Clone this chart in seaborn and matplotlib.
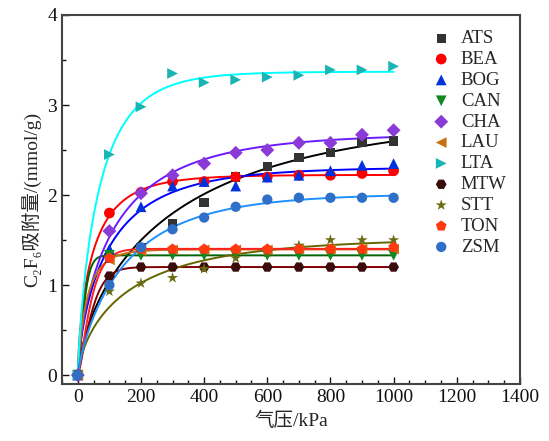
import numpy as np
import pandas as pd
import matplotlib
matplotlib.use("Agg")
import matplotlib.pyplot as plt
from matplotlib.ticker import MultipleLocator
import seaborn as sns

# Pressure points (kPa)
pressure = [0, 100, 200, 300, 400, 500, 600, 700, 800, 900, 1000]

# C2F6 uptake (mmol/g) for each framework
ATS = [0, 1.30, 1.42, 1.68, 1.92, 2.20, 2.32, 2.42, 2.47, 2.58, 2.60]
BEA = [0, 1.80, 2.03, 2.15, 2.15, 2.20, 2.20, 2.22, 2.22, 2.24, 2.27]
BOG = [0, 1.40, 1.87, 2.10, 2.15, 2.10, 2.20, 2.22, 2.27, 2.33, 2.35]
CAN = [0, 1.33, 1.33, 1.33, 1.33, 1.33, 1.33, 1.33, 1.33, 1.33, 1.33]
CHA = [0, 1.60, 2.02, 2.22, 2.35, 2.47, 2.50, 2.58, 2.58, 2.67, 2.72]
LAU = [0, 1.28, 1.38, 1.39, 1.39, 1.39, 1.39, 1.40, 1.40, 1.40, 1.40]
LTA = [0, 2.45, 2.98, 3.35, 3.25, 3.28, 3.31, 3.33, 3.39, 3.39, 3.43]
MTW = [0, 1.10, 1.20, 1.20, 1.20, 1.20, 1.20, 1.20, 1.20, 1.20, 1.20]
STT = [0, 0.93, 1.02, 1.08, 1.18, 1.30, 1.36, 1.44, 1.50, 1.50, 1.50]
TON = [0, 1.30, 1.40, 1.40, 1.40, 1.40, 1.40, 1.40, 1.40, 1.40, 1.42]
ZSM = [0, 1.00, 1.42, 1.62, 1.75, 1.87, 1.95, 1.97, 1.97, 1.97, 1.97]

names = ["ATS", "BEA", "BOG", "CAN", "CHA", "LAU", "LTA", "MTW", "STT", "TON", "ZSM"]
values = [ATS, BEA, BOG, CAN, CHA, LAU, LTA, MTW, STT, TON, ZSM]

marker_colors = ["#333333", "#ff0000", "#0033dd", "#118822", "#8a3ad6", "#c87010",
                 "#19b5b5", "#3a0c0c", "#6b6b10", "#ff3a10", "#2f6fc8"]
line_colors = ["#000000", "#ff0000", "#0000ff", "#006400", "#6a1bff", "#c87010",
               "#00ffff", "#800000", "#666600", "#ff2020", "#1e90ff"]
markers = ["s", "o", "^", "v", "D", "<", ">", "H", "*", "p", "o"]
msizes = [45, 60, 60, 60, 50, 60, 60, 60, 70, 65, 55]

df = pd.DataFrame({
    "P": np.tile(pressure, len(names)),
    "q": np.concatenate(values),
    "zeolite": np.repeat(names, len(pressure)),
})


def isotherm_fit(p, q):
    """Least-squares stretched-exponential isotherm fit by grid search."""
    p = np.asarray(p, float)
    q = np.asarray(q, float)
    ks = np.logspace(-4, np.log10(0.045), 240)
    ns = np.linspace(0.7, 1.3, 61)
    K, N = np.meshgrid(ks, ns, indexing="ij")
    f = 1 - np.exp(-(K[..., None] * p) ** N[..., None])
    qm = (f * q).sum(-1) / (f * f).sum(-1)
    sse = ((qm[..., None] * f - q) ** 2).sum(-1)
    i, j = np.unravel_index(np.argmin(sse), sse.shape)
    return qm[i, j], ks[i], ns[j]


sns.set_theme(style="ticks")
plt.rcParams["font.family"] = ["Liberation Serif", "Noto Sans CJK SC", "DejaVu Serif"]
plt.rcParams["axes.unicode_minus"] = False

fig = plt.figure(figsize=(5.49, 4.41), dpi=100)
ax = fig.add_axes([0.113, 0.129, 0.834, 0.837])

pfine = np.linspace(0, 1000, 400)
for name, q, lc in zip(names, values, line_colors):
    qm, k, n = isotherm_fit(pressure, q)
    curve = pd.DataFrame({"P": pfine, "q": qm * (1 - np.exp(-(k * pfine) ** n))})
    sns.lineplot(data=curve, x="P", y="q", color=lc, lw=1.4, ax=ax, legend=False)

for name, mc, mk, ms in zip(names, marker_colors, markers, msizes):
    sub = df[df["zeolite"] == name]
    sns.scatterplot(data=sub, x="P", y="q", color=mc, marker=mk, s=ms,
                    edgecolor="none", ax=ax, label=name, zorder=3)

ax.set_xlim(-50, 1400)
ax.set_ylim(-0.1, 4.0)
ax.xaxis.set_major_locator(MultipleLocator(200))
ax.xaxis.set_minor_locator(MultipleLocator(50))
ax.yaxis.set_major_locator(MultipleLocator(1))
ax.yaxis.set_minor_locator(MultipleLocator(0.5))
ax.tick_params(which="both", direction="in", top=False, right=False,
               labelsize=14, colors="#111111", width=1.0)
ax.tick_params(which="major", length=5)
ax.tick_params(which="minor", length=3)
for sp in ax.spines.values():
    sp.set_color("#444444")
    sp.set_linewidth(1.5)

ax.set_xlabel("气压/kPa", fontsize=14, labelpad=4)
ax.set_ylabel("C₂F₆吸附量/(mmol/g)", fontsize=14, labelpad=4)

ax.legend(loc="upper right", bbox_to_anchor=(1.0, 0.995), frameon=False,
          fontsize=13.5, handletextpad=0.05, labelspacing=0.2,
          borderaxespad=0.3, markerscale=1.0)

fig.savefig("out.png", dpi=100)
